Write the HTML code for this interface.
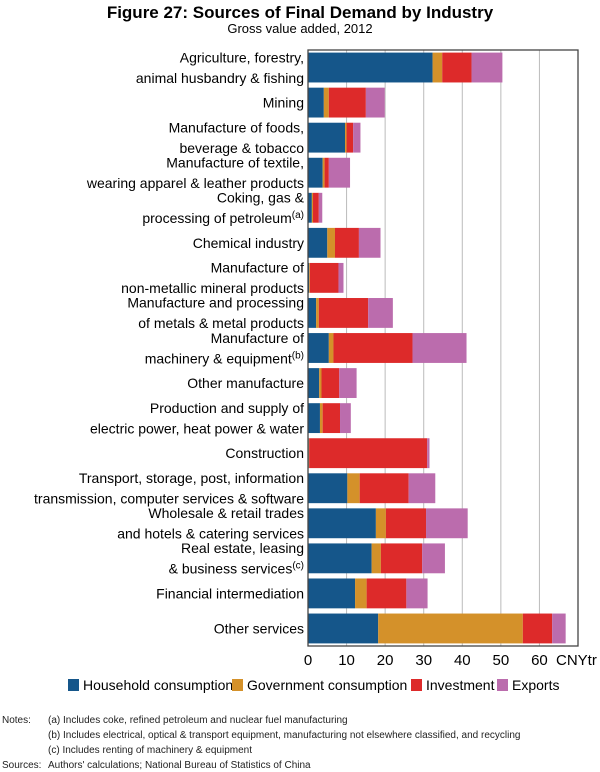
<!DOCTYPE html>
<html><head><meta charset="utf-8"><style>
body{margin:0;background:#fff;width:600px;height:772px;overflow:hidden;font-family:"Liberation Sans",Arial,sans-serif}
svg{display:block}
</style></head><body>
<svg id="chart" width="600" height="772" xmlns="http://www.w3.org/2000/svg" font-family="Liberation Sans, Arial, sans-serif">
<text x="300" y="18" text-anchor="middle" font-size="17" font-weight="bold">Figure 27: Sources of Final Demand by Industry</text>
<text x="300" y="33" text-anchor="middle" font-size="13">Gross value added, 2012</text>
<g id="grid"></g><g id="bars"></g><g id="labels"></g><g id="ticks"></g>
<rect x="308" y="50" width="270" height="596" fill="none" stroke="#444" stroke-width="1.3"/>
<text x="556" y="665" font-size="15">CNYtr</text>
<g id="legend" font-size="14"></g>
<g font-size="10" fill="#222">
<text x="2" y="723">Notes:</text>
<text x="48" y="723">(a) Includes coke, refined petroleum and nuclear fuel manufacturing</text>
<text x="48" y="738">(b) Includes electrical, optical &amp; transport equipment, manufacturing not elsewhere classified, and recycling</text>
<text x="48" y="753">(c) Includes renting of machinery &amp; equipment</text>
<text x="2" y="768">Sources:</text>
<text x="48" y="768">Authors' calculations; National Bureau of Statistics of China</text>
</g>
</svg>
<script>
const categories = [
 ["Agriculture, forestry,","animal husbandry & fishing"],
 ["Mining"],
 ["Manufacture of foods,","beverage & tobacco"],
 ["Manufacture of textile,","wearing apparel & leather products"],
 ["Coking, gas &","processing of petroleum|(a)"],
 ["Chemical industry"],
 ["Manufacture of","non-metallic mineral products"],
 ["Manufacture and processing","of metals & metal products"],
 ["Manufacture of","machinery & equipment|(b)"],
 ["Other manufacture"],
 ["Production and supply of","electric power, heat power & water"],
 ["Construction"],
 ["Transport, storage, post, information","transmission, computer services & software"],
 ["Wholesale & retail trades","and hotels & catering services"],
 ["Real estate, leasing","& business services|(c)"],
 ["Financial intermediation"],
 ["Other services"]
];
const household  = [32.3,4.1,9.6,3.8,1.0,5.0,0.3,2.1,5.4,2.9,3.1,0.2,10.2,17.6,16.5,12.2,18.2];
const government = [2.5,1.3,0.4,0.5,0.3,2.0,0.2,0.7,1.2,0.6,0.7,0.1,3.2,2.6,2.4,3.0,37.5];
const investment = [7.6,9.6,1.7,1.1,1.5,6.2,7.4,12.8,20.5,4.6,4.5,30.6,12.7,10.4,10.7,10.3,7.6];
const exports_   = [8.0,4.9,1.9,5.5,0.9,5.6,1.3,6.4,14.0,4.5,2.8,0.6,6.9,10.8,5.9,5.5,3.5];
const seriesNames = ["Household consumption","Government consumption","Investment","Exports"];
const xTicks = [0,10,20,30,40,50,60];

const NS="http://www.w3.org/2000/svg";
const colors=["#15568a","#d4912a","#dd2a2a","#bb6cad"];
const X0=308,X1=578,XMAX=70,Y0=50,Y1=646;
const x=v=>X0+v*(X1-X0)/XMAX;
const band=(Y1-Y0)/categories.length;
const y=i=>Y0+i*band;
function mk(t,a,p){const e=document.createElementNS(NS,t);for(const k in a)e.setAttribute(k,a[k]);p.appendChild(e);return e;}
const grid=document.getElementById('grid'),bars=document.getElementById('bars'),labels=document.getElementById('labels'),ticks=document.getElementById('ticks');
xTicks.forEach(t=>{
 if(t>0){const l=mk('line',{x1:x(t),x2:x(t),y1:Y0,y2:Y1,stroke:'#bbb','stroke-width':1},grid);
 
 }
 const tx=mk('text',{x:x(t),y:665,'text-anchor':'middle','font-size':15},ticks);tx.textContent=t;
 
 
});
const series=[household,government,investment,exports_];
categories.forEach((c,i)=>{
 let acc=0;const top=y(i)+2.6,h=band-5.2;
 series.forEach((s,k)=>{
  const r=mk('rect',{x:x(acc),y:top,width:Math.max(0,x(acc+s[i])-x(acc)),height:h,fill:colors[k]},bars);
  
  
  acc+=s[i];
 });
 const cy=y(i)+band/2;
 const g=mk('g',{},labels);
 
 
 c.forEach((line,j)=>{
  const ly=cy+5+(j-(c.length-1)/2)*20.5;
  const parts=line.split('|');
  const t=mk('text',{x:304,y:ly,'text-anchor':'end','font-size':14},g);
  t.appendChild(document.createTextNode(parts[0]));
  if(parts[1]){const s=mk('tspan',{'font-size':10,dy:-5},t);s.textContent=parts[1];}
 });
});
const leg=document.getElementById('legend');
const lx=[68,232,411,497];
seriesNames.forEach((n,k)=>{
 const g=mk('g',{},leg);
 
 
 mk('rect',{x:lx[k],y:679,width:11,height:12,fill:colors[k]},g);
 const t=mk('text',{x:lx[k]+15,y:690},g);t.textContent=n;
});
</script>
</body></html>
